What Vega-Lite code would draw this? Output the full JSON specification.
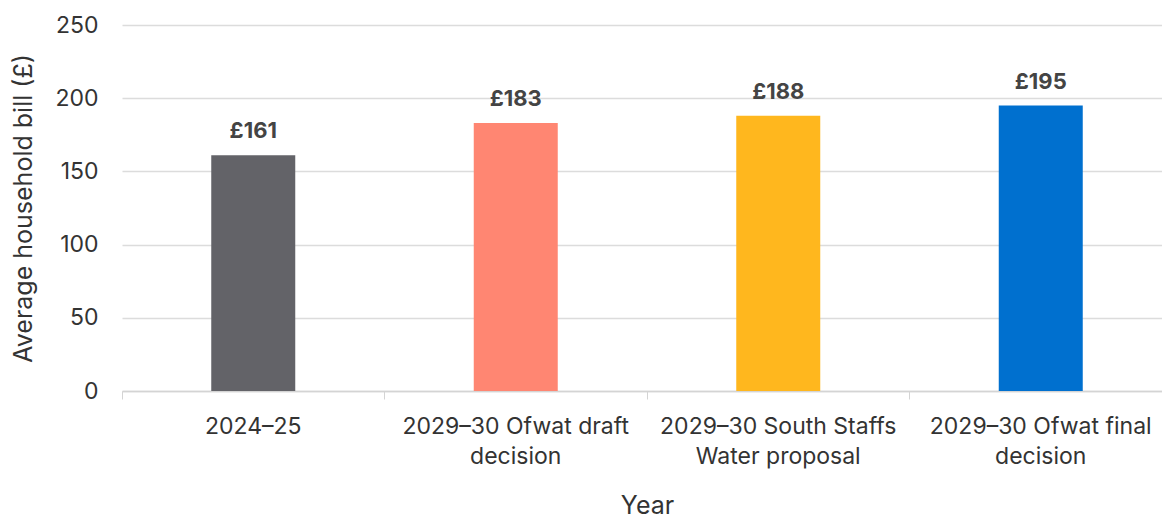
{
  "$schema": "https://vega.github.io/schema/vega-lite/v6.json",
  "autosize": {"type": "none"},
  "padding": {"left": 122, "top": 25, "right": 0, "bottom": 129},
  "width": 1050,
  "height": 366,
  "background": "white",
  "config": {"view": {"stroke": null}, "font": "Inter"},
  "data": {
    "values": [
      {"category": "2024–25", "bill": 161, "label": "£161"},
      {"category": "2029–30 Ofwat draft decision", "bill": 183, "label": "£183"},
      {"category": "2029–30 South Staffs Water proposal", "bill": 188, "label": "£188"},
      {"category": "2029–30 Ofwat final decision", "bill": 195, "label": "£195"}
    ]
  },
  "encoding": {
    "x": {
      "field": "category",
      "type": "nominal",
      "sort": null,
      "scale": {"paddingInner": 0, "paddingOuter": 0},
      "title": "Year",
      "axis": {
        "labelAngle": 0,
        "labelFontSize": 23,
        "labelColor": "#333333",
        "labelPadding": 16,
        "labelLineHeight": 30,
        "labelExpr": "datum.value == '2029–30 Ofwat draft decision' ? ['2029–30 Ofwat draft', 'decision'] : datum.value == '2029–30 South Staffs Water proposal' ? ['2029–30 South Staffs', 'Water proposal'] : datum.value == '2029–30 Ofwat final decision' ? ['2029–30 Ofwat final', 'decision'] : datum.value",
        "bandPosition": 0,
        "ticks": true,
        "tickSize": 8,
        "tickColor": "#d4d4d4",
        "domainColor": "#d4d4d4",
        "domainWidth": 1.5,
        "titleFontSize": 25,
        "titleFontWeight": "normal",
        "titleColor": "#333333",
        "titlePadding": 25,
        "labelLimit": 300
      }
    },
    "y": {
      "field": "bill",
      "type": "quantitative",
      "scale": {"domain": [0, 250]},
      "title": "Average household bill (£)",
      "axis": {
        "values": [0, 50, 100, 150, 200, 250],
        "domain": false,
        "ticks": false,
        "labelFontSize": 23,
        "labelColor": "#333333",
        "labelPadding": 24,
        "gridColor": "#dcdcdc",
        "gridWidth": 1.5,
        "titleFontSize": 25,
        "titleFontWeight": "normal",
        "titleColor": "#333333",
        "titlePadding": 18
      }
    }
  },
  "layer": [
    {
      "mark": {"type": "bar", "width": {"band": 0.32}},
      "encoding": {
        "color": {
          "field": "category",
          "type": "nominal",
          "sort": null,
          "scale": {"range": ["#636368", "#ff8672", "#ffb71e", "#0070cf"]},
          "legend": null
        }
      }
    },
    {
      "mark": {"type": "text", "baseline": "alphabetic", "dy": -17, "fontSize": 22, "fontWeight": "bold", "color": "#444444"},
      "encoding": {"text": {"field": "label"}}
    }
  ]
}
